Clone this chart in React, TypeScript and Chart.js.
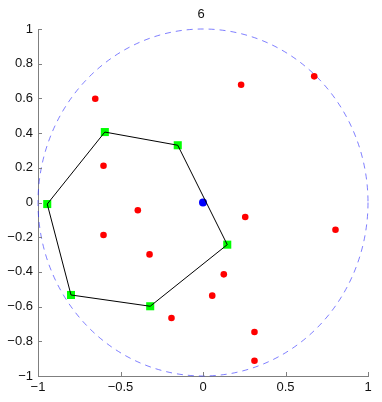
import React, { useEffect, useRef } from "react";
import { Chart, registerables } from "chart.js";

Chart.register(...registerables);

const titleText = "6";
const xTicks = [-1, -0.5, 0, 0.5, 1];
const yTicks = [-1, -0.8, -0.6, -0.4, -0.2, 0, 0.2, 0.4, 0.6, 0.8, 1];

const hullX = [-0.595, -0.153, 0.147, -0.32, -0.8, -0.944];
const hullY = [0.406, 0.33, -0.243, -0.598, -0.533, -0.009];

const redX = [-0.653, 0.231, 0.674, -0.603, -0.395, -0.603, -0.324, 0.256, 0.803, 0.126, 0.056, -0.191, 0.312, 0.312];
const redY = [0.598, 0.679, 0.727, 0.212, -0.045, -0.187, -0.299, -0.084, -0.157, -0.414, -0.537, -0.666, -0.746, -0.912];

const centerX = [0];
const centerY = [0];

const circleCenter = [0, 0];
const circleRadius = 1;

const FONT = "'Liberation Sans', Arial, sans-serif";

const fmt = (v: number) => {
  const s = String(Math.round(v * 10) / 10);
  return s.replace("-", "\u2212");
};

export default function App() {
  const ref = useRef<HTMLCanvasElement | null>(null);

  useEffect(() => {
    if (!ref.current) return;
    const hull = hullX.map((x, i) => ({ x, y: hullY[i] }));
    const hullClosed = [...hull, hull[0]];
    const red = redX.map((x, i) => ({ x, y: redY[i] }));
    const center = centerX.map((x, i) => ({ x, y: centerY[i] }));

    const circlePlugin = {
      id: "circle",
      beforeDatasetsDraw(chart: any) {
        const xs = chart.scales.x;
        const ys = chart.scales.y;
        const cx = xs.getPixelForValue(circleCenter[0]);
        const cy = ys.getPixelForValue(circleCenter[1]);
        const rx = Math.abs(xs.getPixelForValue(circleCenter[0] + circleRadius) - cx);
        const ry = Math.abs(ys.getPixelForValue(circleCenter[1] + circleRadius) - cy);
        const ctx = chart.ctx;
        ctx.save();
        ctx.strokeStyle = "rgba(40,40,255,0.75)";
        ctx.lineWidth = 0.8;
        ctx.setLineDash([6, 5]);
        ctx.beginPath();
        ctx.ellipse(cx, cy, rx, ry, 0, 0, Math.PI * 2);
        ctx.stroke();
        ctx.restore();
      },
    };

    const axesPlugin = {
      id: "matlabAxes",
      afterDraw(chart: any) {
        const ctx = chart.ctx;
        const xs = chart.scales.x;
        const ys = chart.scales.y;
        const a = chart.chartArea;
        ctx.save();
        ctx.strokeStyle = "#7f7f7f";
        ctx.lineWidth = 1;
        ctx.beginPath();
        for (const t of xTicks) {
          const px = Math.round(xs.getPixelForValue(t)) + 0.5;
          ctx.moveTo(px, a.bottom);
          ctx.lineTo(px, a.bottom - 4);
        }
        for (const t of yTicks) {
          const py = Math.round(ys.getPixelForValue(t)) + 0.5;
          ctx.moveTo(a.left, py);
          ctx.lineTo(a.left + 4, py);
        }
        ctx.stroke();
        ctx.fillStyle = "#111111";
        ctx.font = "13px " + FONT;
        ctx.textAlign = "center";
        ctx.textBaseline = "middle";
        ctx.fillText(titleText, (a.left + a.right) / 2 - 2, 14);
        ctx.restore();
      },
    };

    const chart = new Chart(ref.current, {
      type: "scatter",
      data: {
        datasets: [
          {
            data: hullClosed,
            showLine: true,
            borderColor: "#000000",
            borderWidth: 1,
            pointRadius: 0,
            fill: false,
          },
          {
            data: center,
            pointRadius: 4,
            pointBackgroundColor: "#0000ff",
            pointBorderWidth: 0,
            borderColor: "#0000ff",
          },
          {
            data: hull,
            pointStyle: "rect",
            pointRadius: 5.7,
            pointBackgroundColor: "#00ff00",
            pointBorderWidth: 0,
            borderColor: "#00ff00",
          },
          {
            data: red,
            pointRadius: 3.3,
            pointBackgroundColor: "#ff0000",
            pointBorderWidth: 0,
            borderColor: "#ff0000",
          },
        ],
      },
      options: {
        animation: false,
        responsive: false,
        layout: { padding: { top: 29, right: 14, left: 0, bottom: 0 } },
        plugins: {
          legend: { display: false },
          tooltip: { enabled: false },
          title: { display: false },
        },
        scales: {
          x: {
            type: "linear",
            min: -1,
            max: 1,
            afterBuildTicks: (s: any) => {
              s.ticks = xTicks.map((v) => ({ value: v }));
            },
            afterFit: (s: any) => {
              s.height = 26;
            },
            grid: { display: false, drawTicks: false },
            border: { display: true, color: "#7f7f7f", width: 1 },
            ticks: {
              padding: 4,
              color: "#111111",
              font: { family: FONT, size: 13 },
              callback: (v: any) => fmt(Number(v)),
              maxRotation: 0,
              autoSkip: false,
            },
          },
          y: {
            type: "linear",
            min: -1,
            max: 1,
            afterBuildTicks: (s: any) => {
              s.ticks = yTicks.map((v) => ({ value: v }));
            },
            afterFit: (s: any) => {
              s.width = 38;
            },
            grid: { display: false, drawTicks: false },
            border: { display: true, color: "#7f7f7f", width: 1 },
            ticks: {
              padding: 5,
              color: "#111111",
              font: { family: FONT, size: 13 },
              callback: (v: any) => fmt(Number(v)),
              autoSkip: false,
            },
          },
        },
      },
      plugins: [circlePlugin, axesPlugin],
    });
    return () => chart.destroy();
  }, []);

  return (
    <div style={{ position: "fixed", left: 0, top: 0, width: 382, height: 402, background: "#fff" }}>
      <canvas ref={ref} width={382} height={402} style={{ display: "block" }} />
    </div>
  );
}
